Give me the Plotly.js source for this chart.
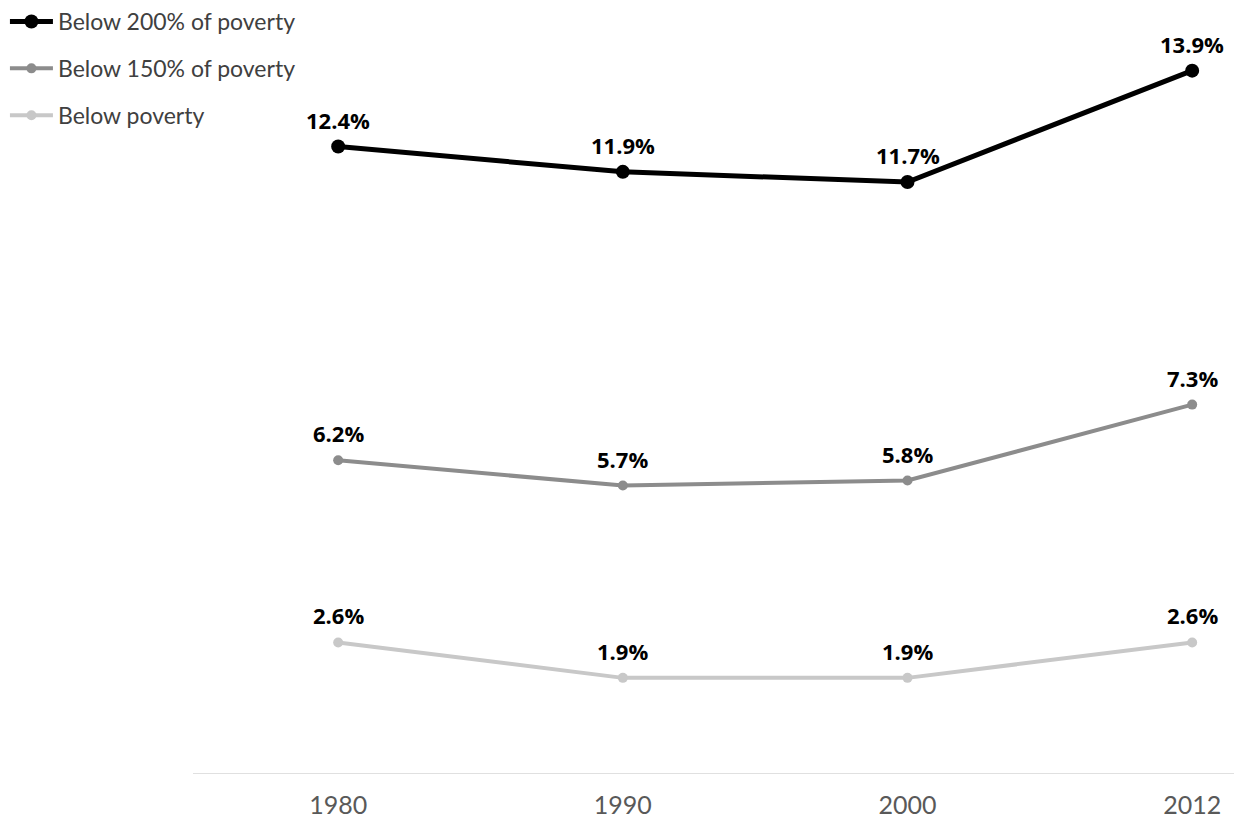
<!DOCTYPE html>
<html>
<head>
<meta charset="utf-8">
<script src="https://cdn.plot.ly/plotly-3.0.1.min.js"></script>
<style>html,body{margin:0;padding:0;background:#fff;}#chart{width:1234px;height:823px;}</style>
</head>
<body>
<div id="chart"></div>
<script>
var years = ['1980', '1990', '2000', '2012'];
var below200 = [12.4, 11.9, 11.7, 13.9];
var below150 = [6.2, 5.7, 5.8, 7.3];
var belowPov = [2.6, 1.9, 1.9, 2.6];
var seriesNames = ['Below 200% of poverty', 'Below 150% of poverty', 'Below poverty'];

var seriesVals = [below200, below150, belowPov];
var colors = ['#000000', '#8c8c8c', '#c8c8c8'];
var widths = [5, 4, 4];
var msizes = [14, 10, 10];

var traces = seriesVals.map(function (vals, i) {
  return {
    x: years, y: vals, name: seriesNames[i], type: 'scatter', mode: 'lines+markers',
    line: {color: colors[i], width: widths[i]},
    marker: {color: colors[i], size: msizes[i]},
    legendgroup: 'g' + i, hoverinfo: 'skip'
  };
});

var annotations = [];
seriesVals.forEach(function (vals) {
  vals.forEach(function (v, j) {
    annotations.push({
      x: j, y: v, xref: 'x', yref: 'y', text: '<b>' + v.toFixed(1) + '%</b>',
      showarrow: false, yanchor: 'middle', xanchor: 'center', yshift: 27,
      font: {family: '"Open Sans", sans-serif', size: 22, color: '#000000'}
    });
  });
});

var layout = {
  width: 1234, height: 823,
  margin: {l: 193, r: 0, t: 15, b: 49, autoexpand: false},
  paper_bgcolor: '#fff', plot_bgcolor: '#fff',
  showlegend: true,
  legend: {
    xref: 'container', yref: 'container', x: 0.004, y: 1.0, xanchor: 'left', yanchor: 'top',
    traceorder: 'grouped', tracegroupgap: 14, itemwidth: 43,
    font: {family: 'Lato, sans-serif', size: 23, color: '#404040'},
    bgcolor: 'rgba(0,0,0,0)'
  },
  xaxis: {
    type: 'category', range: [-0.51, 3.147],
    showgrid: false, zeroline: false, showline: false, ticks: '',
    ticklabelstandoff: 14,
    tickfont: {family: 'Lato, sans-serif', size: 25, color: '#595959'}
  },
  yaxis: {
    range: [0, 15], showgrid: false, zeroline: false, showticklabels: false, showline: false
  },
  shapes: [{
    type: 'line', xref: 'paper', yref: 'y', x0: 0, x1: 1, y0: 0, y1: 0,
    line: {color: '#e0e0e0', width: 2}
  }],
  annotations: annotations
};

Plotly.newPlot('chart', traces, layout, {displayModeBar: false, staticPlot: true});
</script>
</body>
</html>
